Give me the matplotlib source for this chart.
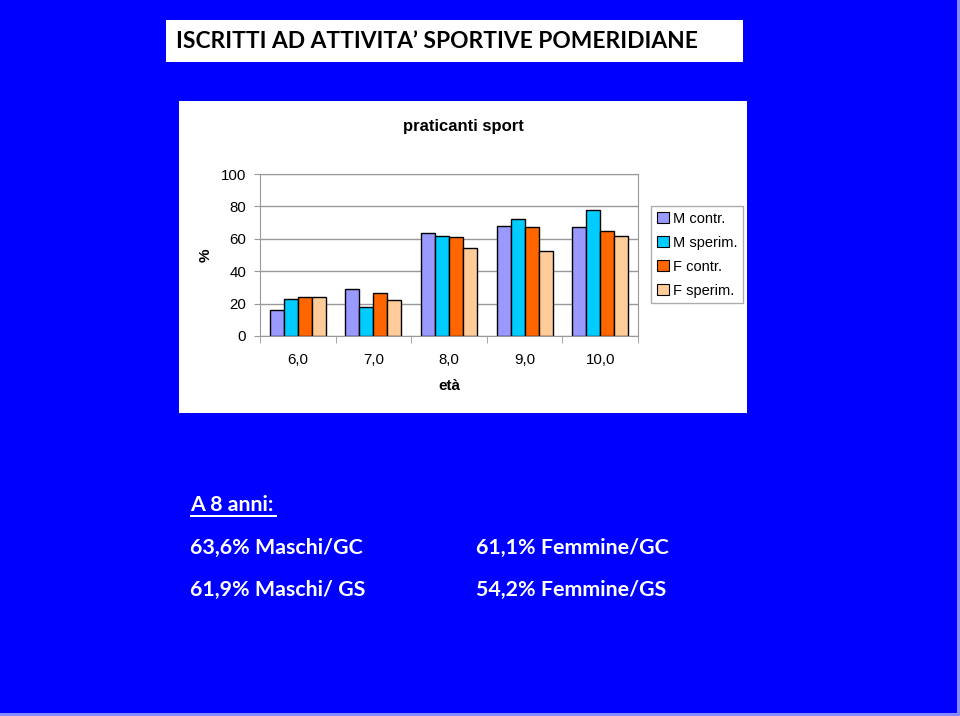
import matplotlib.pyplot as plt
from matplotlib.patches import Rectangle

# data
eta = ['6,0', '7,0', '8,0', '9,0', '10,0']
m_contr = [16, 29, 63.6, 68, 67]
m_sperim = [23, 18, 61.9, 72, 78]
f_contr = [24.3, 26.6, 61.1, 67, 65]
f_sperim = [24.3, 22, 54.2, 52.5, 61.5]
serie = ['M contr.', 'M sperim.', 'F contr.', 'F sperim.']
colori = ['#9999FF', '#00CCFF', '#FF6600', '#FFCC99']

W, H = 960, 716
fig = plt.figure(figsize=(9.6, 7.16), dpi=100)
fig.patch.set_facecolor('#0000FF')


def box(x0, y0, x1, y1, **kw):
    # pixel coords (y from top) -> figure fraction
    return Rectangle((x0 / W, 1 - y1 / H), (x1 - x0) / W, (y1 - y0) / H,
                     transform=fig.transFigure, zorder=0, **kw)


# thin light edge on right/bottom
fig.patches.append(box(957, 0, 960, 716, facecolor='#8888FF', edgecolor='none'))
fig.patches.append(box(0, 713, 960, 716, facecolor='#8888FF', edgecolor='none'))

# title box
fig.patches.append(box(166, 20, 743, 62, facecolor='white', edgecolor='none'))
fig.text(176 / W, 1 - 42 / H, 'ISCRITTI AD ATTIVITA\u2019 SPORTIVE POMERIDIANE',
         family='Lato', weight='bold', fontsize=16.4, color='black',
         ha='left', va='center')

# chart box
fig.patches.append(box(179, 101, 747, 413, facecolor='white', edgecolor='none'))
fig.text(463 / W, 1 - 126 / H, 'praticanti sport', family='Liberation Sans',
         weight='bold', fontsize=12, ha='center', va='center')

ax = fig.add_axes([260 / W, 1 - 336 / H, (638 - 260) / W, (336 - 174) / H])
ax.set_zorder(2)
ax.set_facecolor('white')
valori = [m_contr, m_sperim, f_contr, f_sperim]
bw = 0.185
for i, (v, c, s) in enumerate(zip(valori, colori, serie)):
    xs = [k + (i - 1.5) * bw for k in range(len(eta))]
    ax.bar(xs, v, width=bw, color=c, edgecolor='black', linewidth=1, label=s, zorder=3)

ax.set_xlim(-0.5, len(eta) - 0.5)
ax.set_ylim(0, 100)
ax.set_yticks([0, 20, 40, 60, 80, 100])
ax.yaxis.grid(True, color='#999999', linewidth=1, zorder=0)
ax.set_axisbelow(True)
ax.set_xticks(range(len(eta)))
ax.set_xticklabels(eta)
ax.set_xticks([k + 0.5 for k in range(-1, len(eta))], minor=True)
ax.tick_params(axis='x', which='major', length=0, pad=12)
ax.tick_params(axis='x', which='minor', length=5, color='#999999')
ax.tick_params(axis='y', length=4, color='#999999', pad=6)
for lab in ax.get_xticklabels() + ax.get_yticklabels():
    lab.set_family('Liberation Sans')
    lab.set_fontsize(10.8)
for sp in ['left', 'bottom', 'right', 'top']:
    ax.spines[sp].set_color('#999999')
ax.set_xlabel('età', family='Liberation Sans', weight='bold', fontsize=11, labelpad=9)
ax.set_ylabel('%', family='Liberation Sans', weight='bold', fontsize=11, labelpad=6)

leg = fig.legend(loc='upper left', bbox_to_anchor=(651 / W, 1 - 206 / H),
                 frameon=True, fancybox=False, edgecolor='#999999',
                 prop={'family': 'Liberation Sans', 'size': 10.5},
                 handlelength=0.8, handleheight=0.8, handletextpad=0.3,
                 labelspacing=0.68, borderpad=0.4, borderaxespad=0)
leg.set_zorder(5)
for h in leg.legend_handles:
    h.set_linewidth(0.8)

# testo sotto
kw = dict(family='Lato', weight='bold', fontsize=15.4, color='white', va='center', ha='left')
fig.text(190 / W, 1 - 505 / H, 'A 8 anni:', **kw)
fig.patches.append(box(190, 515, 277, 517, facecolor='white', edgecolor='none'))
fig.text(190 / W, 1 - 548 / H, '63,6% Maschi/GC', **kw)
fig.text(190 / W, 1 - 590 / H, '61,9% Maschi/ GS', **kw)
fig.text(476 / W, 1 - 548 / H, '61,1% Femmine/GC', **kw)
fig.text(476 / W, 1 - 590 / H, '54,2% Femmine/GS', **kw)

fig.savefig('out.png', dpi=100, facecolor=fig.get_facecolor())
